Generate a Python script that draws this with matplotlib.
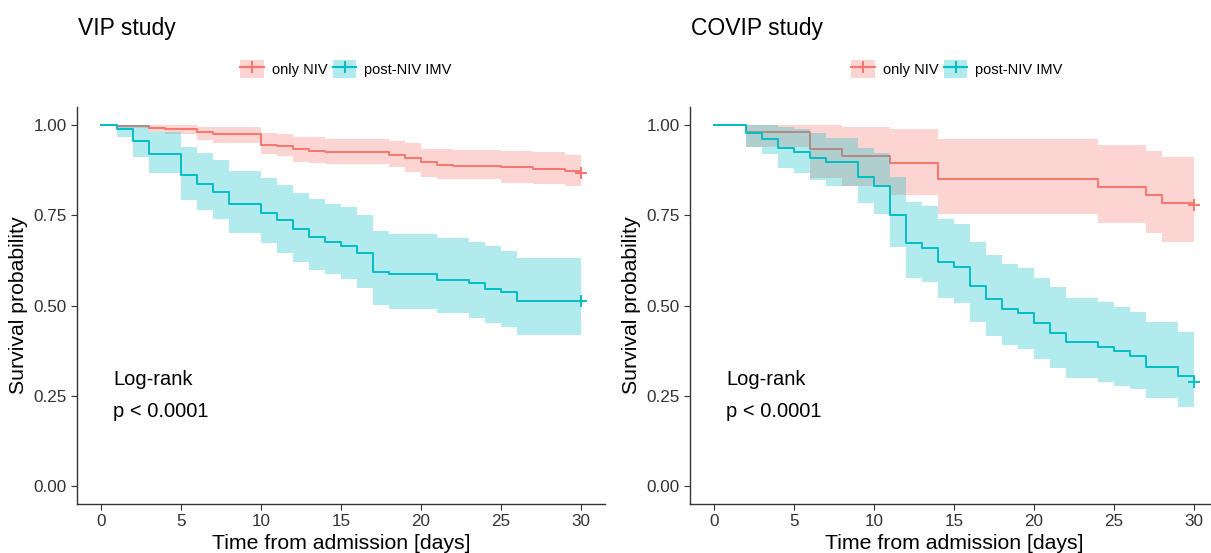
import matplotlib
matplotlib.use('Agg')
import matplotlib.pyplot as plt
from matplotlib.patches import Patch
from matplotlib.lines import Line2D

plt.rcParams['font.family'] = ['Liberation Sans', 'DejaVu Sans']

# VIP study
vip_niv_t = [0, 1, 3, 4, 6, 7, 10, 11, 12, 13, 14, 18, 19, 20, 21, 22, 25, 27, 29, 30]
vip_niv_s = [1.0, 0.996, 0.992, 0.988, 0.980, 0.974, 0.946, 0.941, 0.933, 0.928, 0.924,
             0.917, 0.908, 0.897, 0.890, 0.887, 0.883, 0.878, 0.874, 0.867]
vip_niv_hi = [1.0, 1.0, 1.0, 1.0, 0.995, 0.995, 0.977, 0.975, 0.968, 0.966, 0.960,
              0.955, 0.949, 0.935, 0.935, 0.931, 0.928, 0.924, 0.918, 0.918]
vip_niv_lo = [1.0, 0.992, 0.981, 0.976, 0.958, 0.951, 0.919, 0.915, 0.898, 0.896, 0.892,
              0.885, 0.871, 0.857, 0.850, 0.850, 0.840, 0.838, 0.831, 0.831]

vip_imv_t = [0, 1, 2, 3, 5, 6, 7, 8, 10, 11, 12, 13, 14, 15, 16, 17, 18, 21, 23, 24, 25, 26, 30]
vip_imv_s = [1.0, 0.989, 0.955, 0.920, 0.861, 0.836, 0.815, 0.781, 0.757, 0.737, 0.711, 0.690,
             0.677, 0.666, 0.645, 0.594, 0.586, 0.571, 0.561, 0.547, 0.538, 0.513, 0.513]
vip_imv_hi = [1.0, 1.0, 1.0, 0.981, 0.938, 0.922, 0.902, 0.873, 0.852, 0.834, 0.813, 0.794,
              0.781, 0.772, 0.751, 0.707, 0.698, 0.687, 0.677, 0.665, 0.652, 0.631, 0.631]
vip_imv_lo = [1.0, 0.968, 0.912, 0.866, 0.792, 0.765, 0.741, 0.700, 0.672, 0.646, 0.621, 0.598,
              0.587, 0.573, 0.548, 0.501, 0.489, 0.478, 0.465, 0.452, 0.441, 0.418, 0.418]

# COVIP study
covip_niv_t = [0, 2, 6, 8, 11, 14, 24, 27, 28, 30]
covip_niv_s = [1.0, 0.981, 0.935, 0.915, 0.894, 0.850, 0.827, 0.806, 0.785, 0.778]
covip_niv_hi = [1.0, 1.0, 1.0, 0.995, 0.988, 0.960, 0.945, 0.929, 0.911, 0.911]
covip_niv_lo = [1.0, 0.940, 0.852, 0.832, 0.807, 0.753, 0.728, 0.700, 0.675, 0.675]

covip_imv_t = [0, 2, 3, 4, 5, 6, 7, 9, 10, 11, 12, 13, 14, 15, 16, 17, 18, 19, 20, 21, 22,
               24, 25, 26, 27, 29, 30]
covip_imv_s = [1.0, 0.977, 0.962, 0.936, 0.926, 0.910, 0.897, 0.857, 0.832, 0.751, 0.674,
               0.659, 0.621, 0.607, 0.555, 0.517, 0.489, 0.478, 0.452, 0.425, 0.398,
               0.386, 0.374, 0.360, 0.330, 0.306, 0.289]
covip_imv_hi = [1.0, 1.0, 1.0, 0.995, 0.990, 0.977, 0.965, 0.937, 0.922, 0.857, 0.788,
                0.776, 0.739, 0.726, 0.677, 0.640, 0.615, 0.603, 0.575, 0.550, 0.522,
                0.511, 0.497, 0.483, 0.455, 0.427, 0.427]
covip_imv_lo = [1.0, 0.940, 0.919, 0.882, 0.866, 0.848, 0.832, 0.783, 0.753, 0.663, 0.577,
                0.564, 0.520, 0.508, 0.455, 0.416, 0.391, 0.379, 0.351, 0.326, 0.300,
                0.289, 0.277, 0.268, 0.243, 0.218, 0.218]

groups = ['only NIV', 'post-NIV IMV']
colors = ['#F8766D', '#00BFC4']
x_ticks = [0, 5, 10, 15, 20, 25, 30]
y_ticks = [0.0, 0.25, 0.5, 0.75, 1.0]

W, H = 1211, 553
fig = plt.figure(figsize=(W / 100, H / 100), dpi=100)

panels = [
    ('VIP study', 77, 346,
     [(vip_niv_t, vip_niv_s, vip_niv_hi, vip_niv_lo),
      (vip_imv_t, vip_imv_s, vip_imv_hi, vip_imv_lo)]),
    ('COVIP study', 690, 957,
     [(covip_niv_t, covip_niv_s, covip_niv_hi, covip_niv_lo),
      (covip_imv_t, covip_imv_s, covip_imv_hi, covip_imv_lo)]),
]

for title, left_px, leg_x, curves in panels:
    ax = fig.add_axes([left_px / W, 49 / H, 528 / W, 397 / H])
    for i, (t, s, hi, lo) in enumerate(curves):
        z = 1 + 2 * i
        ax.fill_between(t, lo, hi, step='post', color=colors[i], alpha=0.3,
                        linewidth=0, zorder=z)
        ax.step(t, s, where='post', color=colors[i], lw=1.4, zorder=z + 0.5)
        ax.plot(t[-1], s[-1], marker='+', color=colors[i], ms=9, mew=1.4,
                zorder=z + 0.6)
    ax.set_xlim(-1.5, 31.5)
    ax.set_ylim(-0.05, 1.05)
    ax.set_xticks(x_ticks)
    ax.set_yticks(y_ticks)
    ax.set_yticklabels(['%.2f' % v for v in y_ticks])
    ax.tick_params(labelsize=12.3, colors='#333333', length=4, width=0.8,
                   labelcolor='#333333')
    for side in ['top', 'right']:
        ax.spines[side].set_visible(False)
    for side in ['left', 'bottom']:
        ax.spines[side].set_color('#333333')
        ax.spines[side].set_linewidth(1.0)
    ax.set_xlabel('Time from admission [days]', fontsize=15.3, labelpad=3)
    ax.set_ylabel('Survival probability', fontsize=15.3, labelpad=4)
    ax.text(0.75, 0.296, 'Log-rank', fontsize=14.5, va='center', ha='left')
    ax.text(0.75, 0.205, 'p < 0.0001', fontsize=14.5, va='center', ha='left')

    fig.text((left_px + 1) / W, 1 - 28 / H, title, fontsize=16.5, va='center', ha='left')

    handles = [(Patch(facecolor=c, alpha=0.3, linewidth=0),
                Line2D([], [], color=c, lw=1.5, marker='+', ms=9, mew=1.5))
               for c in colors]
    fig.legend(handles, groups, loc='center', bbox_to_anchor=(leg_x / W, 1 - 69 / H),
               ncol=2, frameon=False, fontsize=10.5, handlelength=1.6,
               handleheight=1.6, handletextpad=0.55, columnspacing=0.4,
               borderpad=0, numpoints=1)

fig.savefig('out.png', dpi=100)
